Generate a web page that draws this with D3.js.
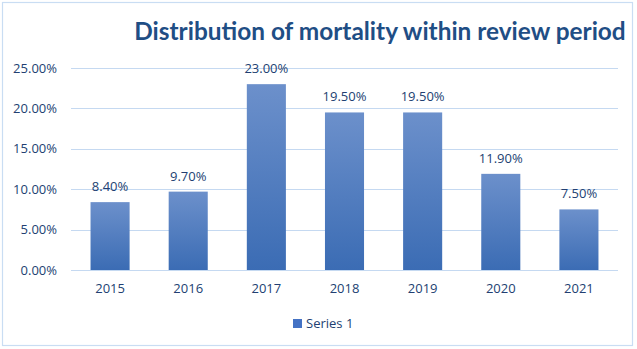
<!DOCTYPE html>
<html><head><meta charset="utf-8">
<script src="https://cdn.jsdelivr.net/npm/d3@7"></script>
<style>html,body{margin:0;padding:0;background:#fff;}svg{display:block;}</style>
</head><body>
<svg id="chart" width="637" height="349"></svg>
<script>
const categories = ["2015","2016","2017","2018","2019","2020","2021"];
const values = [0.084, 0.097, 0.23, 0.195, 0.195, 0.119, 0.075];
const yTicks = [0, 0.05, 0.10, 0.15, 0.20, 0.25];
const seriesName = "Series 1";
const title = "Distribution of mortality within review period";

const svg = d3.select("#chart");
const W = 637, H = 349;
const margin = {left: 71, right: 19, top: 68, bottom: 79};
const font = "'Open Sans', 'Liberation Sans', sans-serif";
const textColor = "#223F72";

svg.append("rect").attr("x",2.5).attr("y",2.5).attr("width",630).attr("height",343)
  .attr("fill","#fff").attr("stroke","#C9DDF3").attr("stroke-width",1.2);

const defs = svg.append("defs");
const grad = defs.append("linearGradient").attr("id","barGrad").attr("x1",0).attr("y1",0).attr("x2",0).attr("y2",1);
grad.append("stop").attr("offset","0%").attr("stop-color","#6C90CB");
grad.append("stop").attr("offset","100%").attr("stop-color","#3B6CB4");

const x = d3.scaleBand().domain(categories).range([margin.left, W - margin.right]).paddingInner(0.5).paddingOuter(0.25);
const y = d3.scaleLinear().domain([0, 0.25]).range([H - margin.bottom, margin.top]);

// gridlines
svg.append("g").selectAll("line").data(yTicks).join("line")
  .attr("x1", margin.left).attr("x2", W - margin.right)
  .attr("y1", d => Math.round(y(d)) + 0.5).attr("y2", d => Math.round(y(d)) + 0.5)
  .attr("stroke", "#C5D9F1").attr("stroke-width", 1);

// y axis labels
const yAxis = d3.axisLeft(y).tickValues(yTicks).tickFormat(d => (d*100).toFixed(2) + "%").tickSize(0).tickPadding(14);
const gy = svg.append("g").attr("transform", `translate(${margin.left},0)`).call(yAxis);
gy.select(".domain").remove();
gy.selectAll("text").attr("font-family", font).attr("font-size", 13).attr("fill", textColor);

// x axis labels
const xAxis = d3.axisBottom(x).tickSize(0).tickPadding(14);
const gx = svg.append("g").attr("transform", `translate(0,${H - margin.bottom})`).call(xAxis);
gx.select(".domain").remove();
gx.selectAll("text").attr("font-family", font).attr("font-size", 13).attr("fill", textColor);

// bars
svg.append("g").selectAll("rect").data(values).join("rect")
  .attr("x", (d,i) => x(categories[i]))
  .attr("width", x.bandwidth())
  .attr("y", d => y(d))
  .attr("height", d => y(0) - y(d))
  .attr("fill", "url(#barGrad)");

// value labels
svg.append("g").selectAll("text").data(values).join("text")
  .attr("x", (d,i) => x(categories[i]) + x.bandwidth()/2)
  .attr("y", d => y(d) - 11)
  .attr("text-anchor", "middle")
  .attr("font-family", font).attr("font-size", 13).attr("fill", textColor)
  .text(d => (d*100).toFixed(2) + "%");

// title
svg.append("text").attr("x", 380).attr("y", 40).attr("text-anchor","middle")
  .attr("font-family", "Lato, 'Open Sans', sans-serif").attr("font-weight","bold").attr("font-size", 24.4)
  .attr("fill", "#1F4E85").text(title);

// legend
svg.append("rect").attr("x", 293).attr("y", 319).attr("width", 9).attr("height", 9).attr("fill", "#4472C4");
svg.append("text").attr("x", 306).attr("y", 328).attr("font-family", font).attr("font-size", 13)
  .attr("fill", textColor).text(seriesName);
</script>
</body></html>
